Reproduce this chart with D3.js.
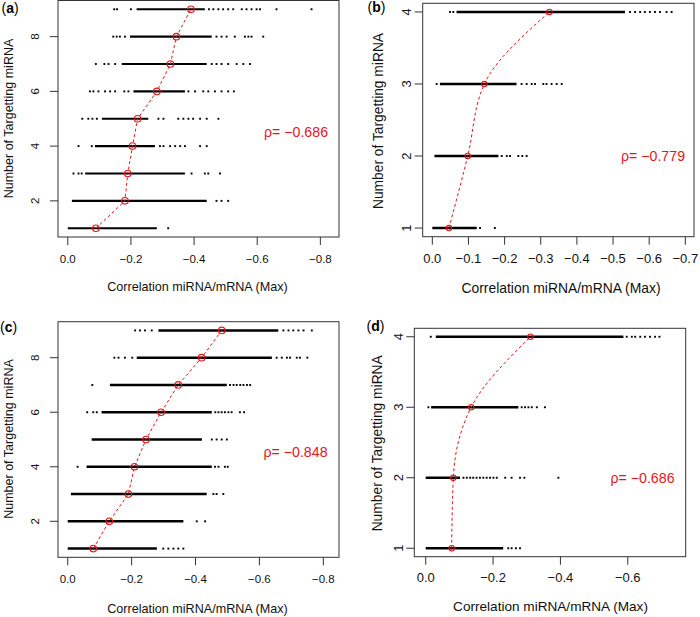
<!DOCTYPE html>
<html><head><meta charset="utf-8">
<script src="https://cdn.jsdelivr.net/npm/d3@7"></script>
<style>
body{margin:0;background:#fff}
svg{display:block}
text{font-family:"Liberation Sans",Arial,Helvetica,sans-serif}
</style>
</head><body>
<svg id="chart" width="700" height="617"></svg>
<script>
// ---------------- DATA ----------------
// Panel (a): rows 1..9 (number of targetting miRNA)
const rowsA = [1,2,3,4,5,6,7,8,9];
const denseA = [[0,-0.282],[-0.013,-0.440],[-0.055,-0.371],[-0.086,-0.276],[-0.108,-0.255],[-0.208,-0.371],[-0.171,-0.440],[-0.197,-0.456],[-0.218,-0.434]];
const sparseA = [
  [-0.318],
  [-0.471,-0.487,-0.508],
  [-0.018,-0.034,-0.044,-0.392,-0.434,-0.445,-0.482],
  [-0.034,-0.076,-0.292,-0.303,-0.324,-0.340,-0.356,-0.371,-0.419,-0.440],
  [-0.046,-0.065,-0.078,-0.092,-0.287,-0.303,-0.350,-0.366,-0.382,-0.397,-0.419,-0.440,-0.477],
  [-0.070,-0.081,-0.097,-0.118,-0.134,-0.150,-0.179,-0.192,-0.382,-0.403,-0.429,-0.445,-0.466,-0.487,-0.508,-0.526],
  [-0.089,-0.116,-0.129,-0.150,-0.456,-0.471,-0.487,-0.508,-0.535,-0.556,-0.577],
  [-0.144,-0.155,-0.165,-0.181,-0.471,-0.487,-0.503,-0.529,-0.561,-0.572,-0.582,-0.619],
  [-0.147,-0.156,-0.200,-0.447,-0.461,-0.477,-0.492,-0.508,-0.524,-0.551,-0.566,-0.582,-0.598,-0.609,-0.661,-0.772]
];
const medianA = [-0.089,-0.181,-0.190,-0.205,-0.221,-0.282,-0.325,-0.344,-0.390];
const rhoA = "ρ= −0.686";

// Panel (b): rows 1..4
const rowsB = [1,2,3,4];
const denseB = [[0,-0.123],[-0.006,-0.183],[-0.021,-0.233],[-0.067,-0.533]];
const sparseB = [
  [-0.132,-0.173],
  [-0.192,-0.206,-0.215,-0.238,-0.249,-0.261],
  [-0.012,-0.247,-0.261,-0.275,-0.284,-0.307,-0.316,-0.330,-0.344,-0.358],
  [-0.049,-0.058,-0.547,-0.561,-0.575,-0.588,-0.602,-0.616,-0.630,-0.648,-0.662]
];
const medianB = [-0.046,-0.098,-0.144,-0.324];
const rhoB = "ρ= −0.779";

// Panel (c): rows 1..9
const rowsC = [1,2,3,4,5,6,7,8,9];
const denseC = [[0,-0.279],[0,-0.362],[-0.010,-0.435],[-0.059,-0.451],[-0.075,-0.420],[-0.106,-0.451],[-0.132,-0.498],[-0.216,-0.639],[-0.284,-0.659]];
const sparseC = [
  [-0.299,-0.315,-0.331,-0.346,-0.362],
  [-0.404,-0.430],
  [-0.456,-0.466,-0.487],
  [-0.031,-0.461,-0.472,-0.492,-0.501],
  [-0.451,-0.466,-0.482,-0.498],
  [-0.061,-0.080,-0.091,-0.462,-0.472,-0.482,-0.492,-0.503,-0.513,-0.539,-0.552],
  [-0.077,-0.508,-0.519,-0.529,-0.540,-0.550,-0.561,-0.571],
  [-0.146,-0.159,-0.179,-0.202,-0.654,-0.670,-0.686,-0.696,-0.717,-0.727,-0.750],
  [-0.211,-0.226,-0.242,-0.263,-0.675,-0.691,-0.706,-0.722,-0.738,-0.764]
];
const medianC = [-0.080,-0.130,-0.190,-0.209,-0.245,-0.292,-0.346,-0.419,-0.482];
const rhoC = "ρ= −0.848";

// Panel (d): rows 1..4
const rowsD = [1,2,3,4];
const denseD = [[0,-0.230],[0,-0.102],[-0.016,-0.275],[-0.030,-0.587]];
const sparseD = [
  [-0.245,-0.255,-0.268,-0.280],
  [-0.112,-0.122,-0.132,-0.141,-0.151,-0.161,-0.171,-0.181,-0.191,-0.201,-0.211,-0.236,-0.255,-0.280,-0.293,-0.394],
  [-0.008,-0.285,-0.295,-0.305,-0.315,-0.330,-0.354],
  [-0.015,-0.597,-0.612,-0.622,-0.637,-0.651,-0.666,-0.681,-0.694]
];
const medianD = [-0.077,-0.082,-0.135,-0.311];
const rhoD = "ρ= −0.686";

// Tick values
const xTicksAC = [0,-0.2,-0.4,-0.6,-0.8];
const yTicksAC = [2,4,6,8];
const xTicksB = [0,-0.1,-0.2,-0.3,-0.4,-0.5,-0.6,-0.7];
const xTicksD = [0,-0.2,-0.4,-0.6];
const yTicksBD = [1,2,3,4];

const xTitle = "Correlation miRNA/mRNA (Max)";
const yTitle = "Number of Targetting miRNA";

// ---------------- DRAW ----------------
const svg = d3.select("#chart");
svg.append("rect").attr("width",700).attr("height",617).attr("fill","#fff");

function panel(cfg){
  const g = svg.append("g");
  const x = d3.scaleLinear().domain(cfg.xDom).range([cfg.left, cfg.right]);
  const y = d3.scaleLinear().domain(cfg.yDom).range([cfg.bottom, cfg.top]);

  // dense runs of points
  g.append("g").selectAll("line").data(cfg.rows).join("line")
    .attr("x1", (r,i)=>x(cfg.dense[i][0])).attr("x2",(r,i)=>x(cfg.dense[i][1]))
    .attr("y1", r=>y(r)).attr("y2", r=>y(r))
    .attr("stroke","#000").attr("stroke-width",cfg.lw);
  // sparse points
  const pts = [];
  cfg.rows.forEach((r,i)=>cfg.sparse[i].forEach(v=>pts.push([v,r])));
  g.append("g").selectAll("rect").data(pts).join("rect")
    .attr("x", d=>x(d[0])-0.95).attr("y", d=>y(d[1])-0.95)
    .attr("width",1.9).attr("height",1.9).attr("fill","#000");

  // median line + circles
  const med = cfg.rows.map((r,i)=>[cfg.median[i], r]);
  const line = d3.line().x(d=>x(d[0])).y(d=>y(d[1])).curve(cfg.curve);
  g.append("path").attr("d", line(med)).attr("fill","none")
    .attr("stroke","#e8141b").attr("stroke-width",1).attr("stroke-dasharray","3,2.5");
  g.append("g").selectAll("circle").data(med).join("circle")
    .attr("cx", d=>x(d[0])).attr("cy", d=>y(d[1])).attr("r", cfg.cr)
    .attr("fill","none").attr("stroke","#e8141b").attr("stroke-width",1.1);

  // box
  g.append("rect").attr("x",cfg.left).attr("y",cfg.top)
    .attr("width",cfg.right-cfg.left).attr("height",cfg.bottom-cfg.top)
    .attr("fill","none").attr("stroke","#333").attr("stroke-width",1);

  // x axis ticks
  const fmt = d3.format(".1f");
  const xa = g.append("g");
  xa.selectAll("line").data(cfg.xTicks).join("line")
    .attr("x1",d=>x(d)).attr("x2",d=>x(d)).attr("y1",cfg.bottom).attr("y2",cfg.bottom+8)
    .attr("stroke","#333");
  xa.selectAll("text").data(cfg.xTicks).join("text")
    .attr("x",d=>x(d)).attr("y",cfg.xLabY).attr("text-anchor","middle")
    .attr("dominant-baseline","central").attr("font-size",cfg.tickFs).attr("fill","#111")
    .text(d=>fmt(d));
  // y axis ticks
  const ya = g.append("g");
  ya.selectAll("line").data(cfg.yTicks).join("line")
    .attr("x1",cfg.left-8).attr("x2",cfg.left).attr("y1",d=>y(d)).attr("y2",d=>y(d))
    .attr("stroke","#333");
  ya.selectAll("text").data(cfg.yTicks).join("text")
    .attr("transform",d=>`translate(${cfg.yLabX},${y(d)}) rotate(-90)`)
    .attr("text-anchor","middle").attr("dominant-baseline","central")
    .attr("font-size",cfg.tickFs).attr("fill","#111").text(d=>d);

  // titles
  g.append("text").attr("x",cfg.xTitleX).attr("y",cfg.xTitleY).attr("text-anchor","middle")
    .attr("dominant-baseline","central").attr("font-size",cfg.titleFs).attr("fill","#111").text(xTitle);
  g.append("text").attr("transform",`translate(${cfg.yTitleX},${cfg.yTitleY}) rotate(-90)`)
    .attr("text-anchor","middle").attr("dominant-baseline","central")
    .attr("font-size",cfg.yTitleFs).attr("fill","#111").text(yTitle);

  // rho
  g.append("text").attr("x",cfg.rhoX).attr("y",cfg.rhoY).attr("text-anchor","middle")
    .attr("dominant-baseline","central").attr("font-size",14.2).attr("fill","#e8141b").text(cfg.rho);

  // panel label
  const lab = g.append("text").attr("x",cfg.labX).attr("y",cfg.labY).attr("font-size",14).attr("fill","#000");
  lab.append("tspan").text("(");
  lab.append("tspan").attr("font-weight","bold").text(cfg.letter);
  lab.append("tspan").text(")");
}

panel({letter:"a", rows:rowsA, dense:denseA, sparse:sparseA, median:medianA, rho:rhoA,
  xDom:[0.031,-0.859], yDom:[0.68,9.32], left:58, right:339, top:0.5, bottom:237,
  xTicks:xTicksAC, yTicks:yTicksAC, tickFs:11.5, titleFs:12.6, yTitleFs:12.5,
  xLabY:258.7, yLabX:35, xTitleX:197.5, xTitleY:286.7, yTitleX:8.5, yTitleY:118.5,
  rhoX:296, rhoY:131.7, labX:1.5, labY:13, curve:d3.curveLinear, cr:3.3, lw:2.2});

panel({letter:"b", rows:rowsB, dense:denseB, sparse:sparseB, median:medianB, rho:rhoB,
  xDom:[0.0266,-0.724], yDom:[0.88,4.12], left:422.7, right:694, top:3.3, bottom:236.7,
  xTicks:xTicksB, yTicks:yTicksBD, tickFs:13, titleFs:13.9, yTitleFs:13.8,
  xLabY:258.3, yLabX:406.7, xTitleX:561, xTitleY:287.7, yTitleX:378, yTitleY:121,
  rhoX:653, rhoY:155.7, labX:367.5, labY:12, curve:d3.curveMonotoneY, cr:2.7, lw:2.6});

panel({letter:"c", rows:rowsC, dense:denseC, sparse:sparseC, median:medianC, rho:rhoC,
  xDom:[0.0304,-0.8491], yDom:[0.68,9.32], left:58, right:339, top:321.7, bottom:557.3,
  xTicks:xTicksAC, yTicks:yTicksAC, tickFs:11.5, titleFs:12.6, yTitleFs:12.5,
  xLabY:579.3, yLabX:35, xTitleX:197.5, xTitleY:609.3, yTitleX:8.5, yTitleY:439,
  rhoX:295.5, rhoY:452.3, labX:0, labY:331.5, curve:d3.curveLinear, cr:3.3, lw:2.4});

panel({letter:"d", rows:rowsD, dense:denseD, sparse:sparseD, median:medianD, rho:rhoD,
  xDom:[0.0339,-0.772], yDom:[0.88,4.12], left:414.3, right:685.7, top:328.3, bottom:556.7,
  xTicks:xTicksD, yTicks:yTicksBD, tickFs:13, titleFs:13.6, yTitleFs:13.8,
  xLabY:577.7, yLabX:398.3, xTitleX:550.5, xTitleY:606, yTitleX:377.3, yTitleY:443.3,
  rhoX:642.5, rhoY:477.7, labX:366.5, labY:331, curve:d3.curveMonotoneY, cr:2.7, lw:2.6});
</script>
</body></html>
